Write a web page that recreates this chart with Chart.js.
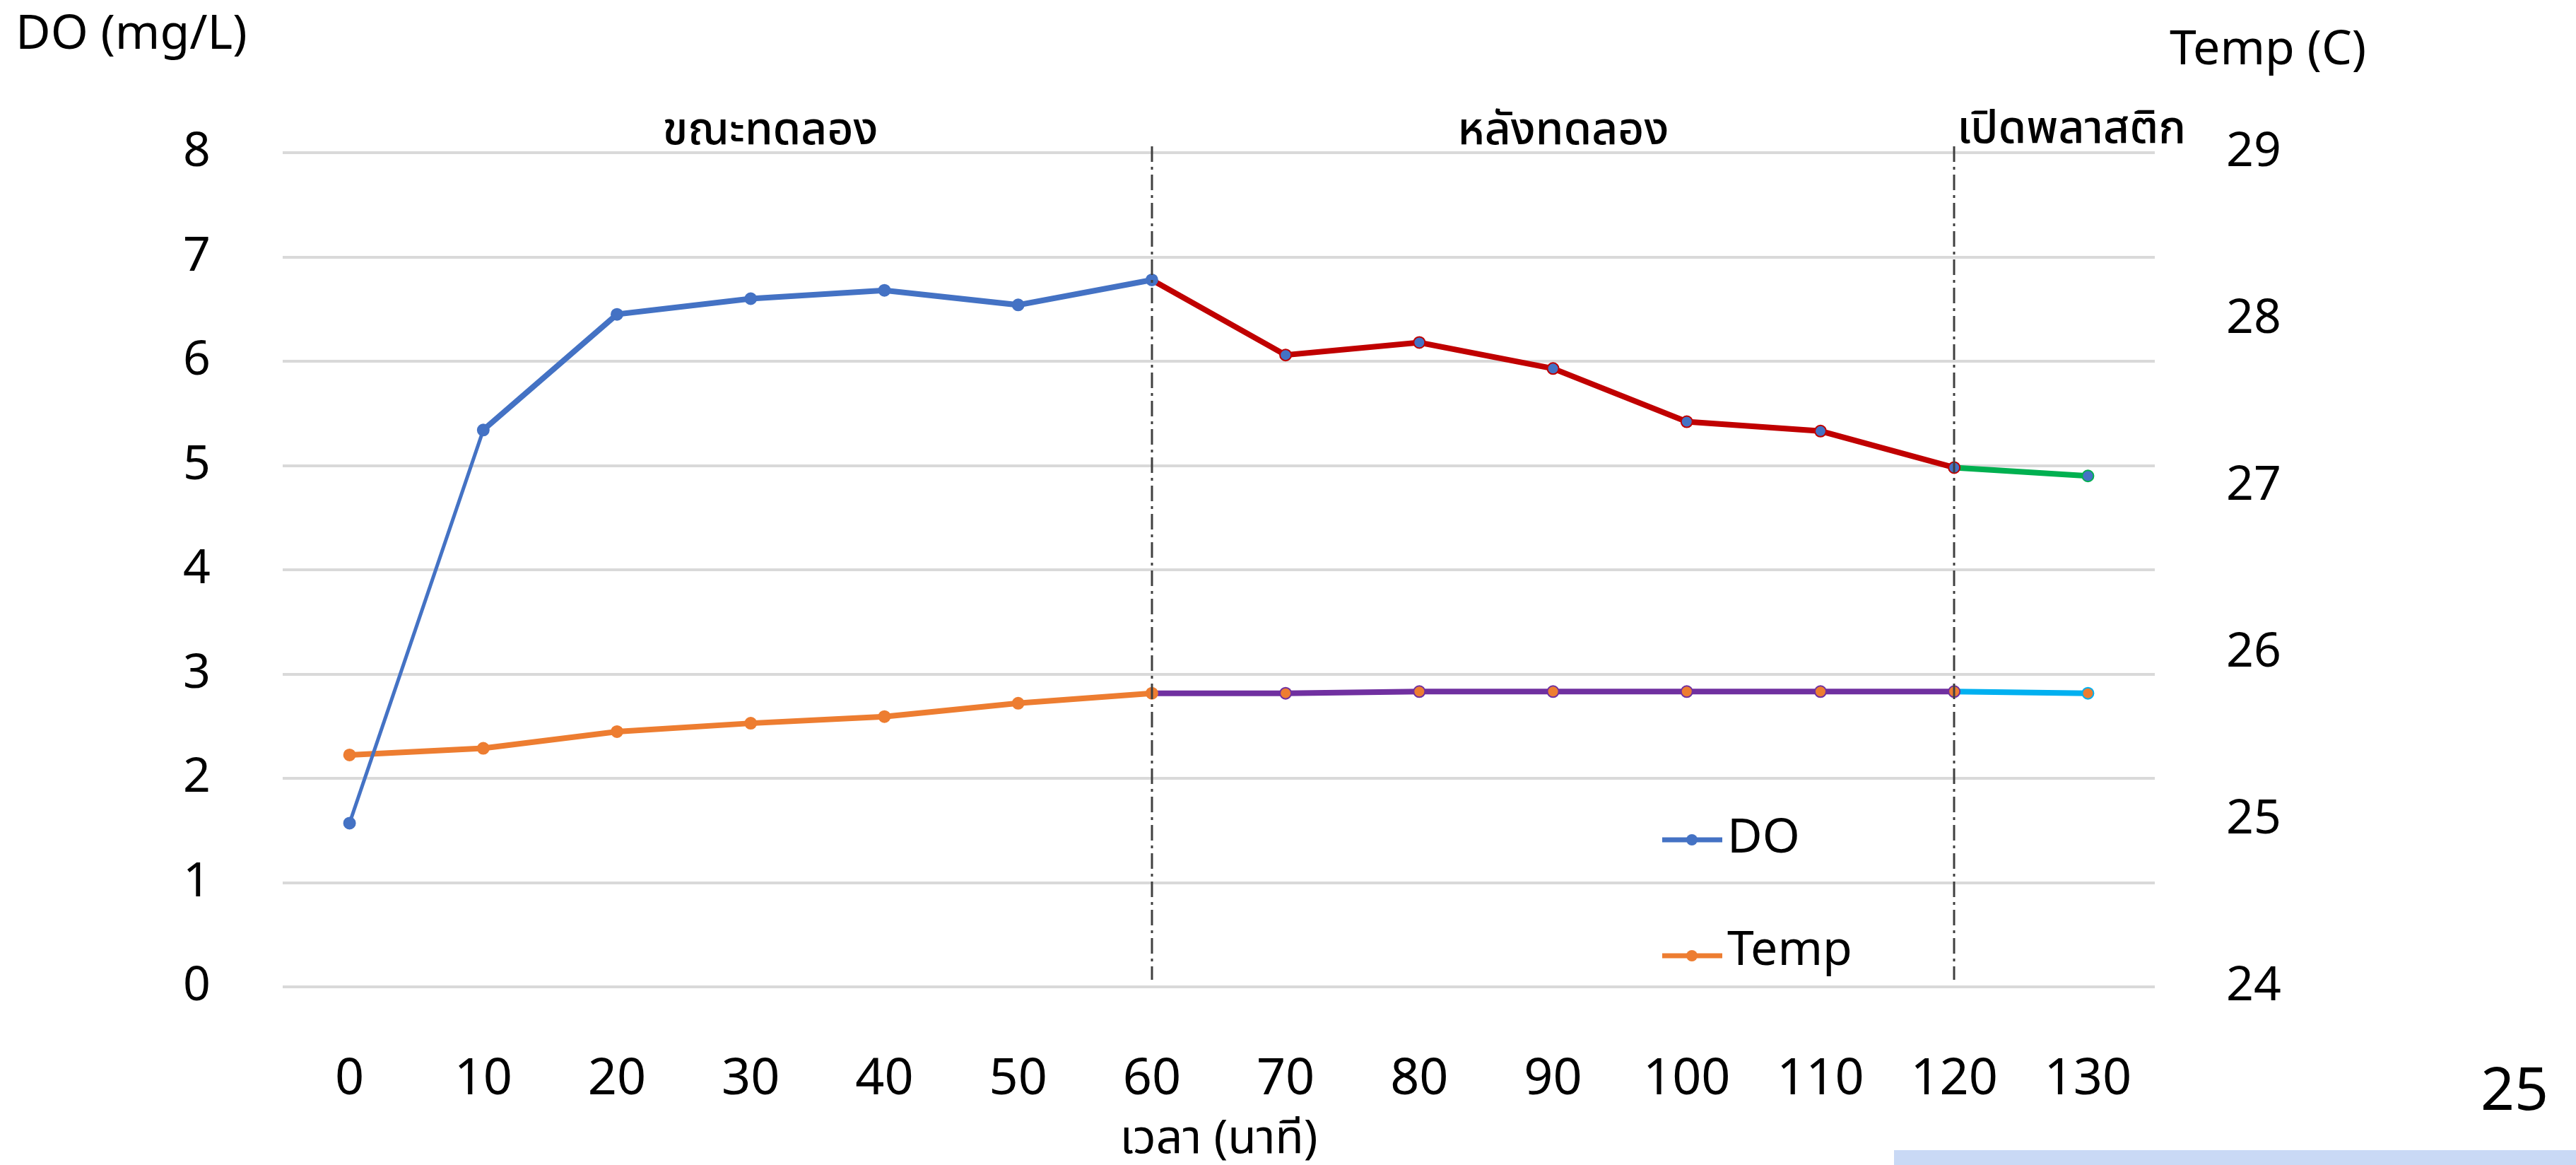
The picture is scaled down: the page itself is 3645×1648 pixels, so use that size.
<!DOCTYPE html>
<html>
<head>
<meta charset="utf-8">
<script src="https://cdn.jsdelivr.net/npm/chart.js@4.4.0/dist/chart.umd.min.js"></script>
<style>
  html, body { margin: 0; padding: 0; background: #fff; }
  #wrap { position: relative; width: 3645px; height: 1648px; }
</style>
</head>
<body>
<div id="wrap"><canvas id="doChart"></canvas></div>
<script>
const minutes = ["0", "10", "20", "30", "40", "50", "60", "70", "80", "90", "100", "110", "120", "130"];
const doValues = [1.57, 5.34, 6.45, 6.60, 6.68, 6.54, 6.78, 6.06, 6.18, 5.93, 5.42, 5.33, 4.98, 4.90];
const tempValues = [25.39, 25.43, 25.53, 25.58, 25.62, 25.70, 25.76, 25.76, 25.77, 25.77, 25.77, 25.77, 25.77, 25.76];
const phaseLabels = ["ขณะทดลอง", "หลังทดลอง", "เปิดพลาสติก"];
const phaseBreaks = ["60", "120"];
const doColors = ["#4472C4", "#C00000", "#00B050"];
const tempColors = ["#ED7D31", "#7030A0", "#00B0F0"];

const thaiFont = "'Noto Sans Thai', 'Noto Sans Thai UI', Garuda, Loma, Tahoma, 'Noto Sans', sans-serif";
const numFont = "'Noto Sans', 'DejaVu Sans', sans-serif";

// which phase a segment starting at index i belongs to
const breakIdx = phaseBreaks.map(b => minutes.indexOf(b));
function phaseOf(i) {
  if (i < breakIdx[0]) return 0;
  if (i < breakIdx[1]) return 1;
  return 2;
}

const doPointBorder = minutes.map((m, i) => doColors[phaseOf(i === 0 ? 0 : i - 1)]);
const tempPointBorder = minutes.map((m, i) => tempColors[phaseOf(i === 0 ? 0 : i - 1)]);

const overlay = {
  id: "overlay",
  afterDraw(chart) {
    const { ctx, chartArea, scales } = chart;
    const x = scales.x;
    ctx.save();

    // phase separators
    ctx.strokeStyle = "#404040";
    ctx.lineWidth = 3;
    ctx.setLineDash([22, 7, 4, 7]);
    breakIdx.forEach(i => {
      const px = Math.round(x.getPixelForValue(i));
      ctx.beginPath();
      ctx.moveTo(px, chartArea.top - 9);
      ctx.lineTo(px, chartArea.bottom - 10);
      ctx.stroke();
    });
    ctx.setLineDash([]);

    // phase labels
    ctx.fillStyle = "#000";
    ctx.textBaseline = "alphabetic";
    ctx.font = "500 64px " + thaiFont;
    ctx.textAlign = "center";
    ctx.fillText(phaseLabels[0], 1090, chartArea.top - 12);
    ctx.fillText(phaseLabels[1], 2212, chartArea.top - 12);
    ctx.textAlign = "left";
    ctx.fillText(phaseLabels[2], x.getPixelForValue(breakIdx[1]) + 4, chartArea.top - 14);

    // axis titles
    ctx.font = "68px " + numFont;
    ctx.textBaseline = "middle";
    ctx.textAlign = "left";
    ctx.fillText("DO (mg/L)", 22, 50);
    ctx.fillText("Temp (C)", 3070, 72);

    ctx.font = "66px " + thaiFont;
    ctx.textAlign = "center";
    ctx.fillText("เวลา (นาที)", (chartArea.left + chartArea.right) / 2, 1618);

    // legend
    const items = chart.data.datasets;
    const rows = [1188, 1352];
    items.forEach((ds, k) => {
      const y = rows[k];
      ctx.strokeStyle = ds.backgroundColor;
      ctx.lineWidth = 7;
      ctx.beginPath();
      ctx.moveTo(2352, y);
      ctx.lineTo(2437, y);
      ctx.stroke();
      ctx.fillStyle = ds.backgroundColor;
      ctx.beginPath();
      ctx.arc(2394, y, 8, 0, Math.PI * 2);
      ctx.fill();
      ctx.fillStyle = "#000";
      ctx.font = "68px " + numFont;
      ctx.textAlign = "left";
      ctx.textBaseline = "alphabetic";
      ctx.fillText(ds.label, 2444, y + 18 - (k === 1 ? 5 : 0));
    });

    // slide page number and footer strip
    ctx.fillStyle = "#000";
    ctx.font = "84px " + numFont;
    ctx.textAlign = "left";
    ctx.textBaseline = "middle";
    ctx.fillText("25", 3510, 1546);
    ctx.fillStyle = "#c9d9f5";
    ctx.fillRect(2680, 1627, 3645 - 2680, 21);

    ctx.restore();
  }
};

new Chart(document.getElementById("doChart"), {
  type: "line",
  data: {
    labels: minutes,
    datasets: [
      {
        label: "DO",
        data: doValues,
        yAxisID: "y",
        borderColor: doColors[0],
        backgroundColor: doColors[0],
        borderWidth: 8,
        pointRadius: 8,
        pointBorderWidth: 2,
        pointBackgroundColor: doColors[0],
        pointBorderColor: doPointBorder,
        segment: {
          borderColor: c => doColors[phaseOf(c.p0DataIndex)],
          borderWidth: c => (c.p0DataIndex === 0 ? 5 : 8)
        },
        tension: 0
      },
      {
        label: "Temp",
        data: tempValues,
        yAxisID: "y1",
        borderColor: tempColors[0],
        backgroundColor: tempColors[0],
        borderWidth: 8,
        pointRadius: 8,
        pointBorderWidth: 2,
        pointBackgroundColor: tempColors[0],
        pointBorderColor: tempPointBorder,
        segment: { borderColor: c => tempColors[phaseOf(c.p0DataIndex)] },
        tension: 0
      }
    ]
  },
  options: {
    responsive: true,
    maintainAspectRatio: false,
    devicePixelRatio: 1,
    animation: false,
    layout: { padding: { top: 216, left: 0, right: 0, bottom: 0 } },
    plugins: {
      legend: { display: false },
      tooltip: { enabled: false }
    },
    scales: {
      x: {
        offset: true,
        grid: { display: false },
        border: { display: false },
        ticks: { color: "#000", font: { family: numFont, size: 72 }, padding: 80, maxRotation: 0 },
        afterFit: s => { s.height = 252; }
      },
      y: {
        position: "left",
        min: 0,
        max: 8,
        grid: { color: "#d9d9d9", lineWidth: 4, drawTicks: false },
        border: { display: false },
        ticks: { stepSize: 1, color: "#000", font: { family: numFont, size: 68 }, padding: 102 },
        afterFit: s => { s.width = 400; }
      },
      y1: {
        position: "right",
        min: 24,
        max: 29,
        grid: { display: false, drawTicks: false },
        border: { display: false },
        ticks: { stepSize: 1, color: "#000", font: { family: numFont, size: 68 }, padding: 101 },
        afterFit: s => { s.width = 596; }
      }
    }
  },
  plugins: [overlay]
});
</script>
</body>
</html>
